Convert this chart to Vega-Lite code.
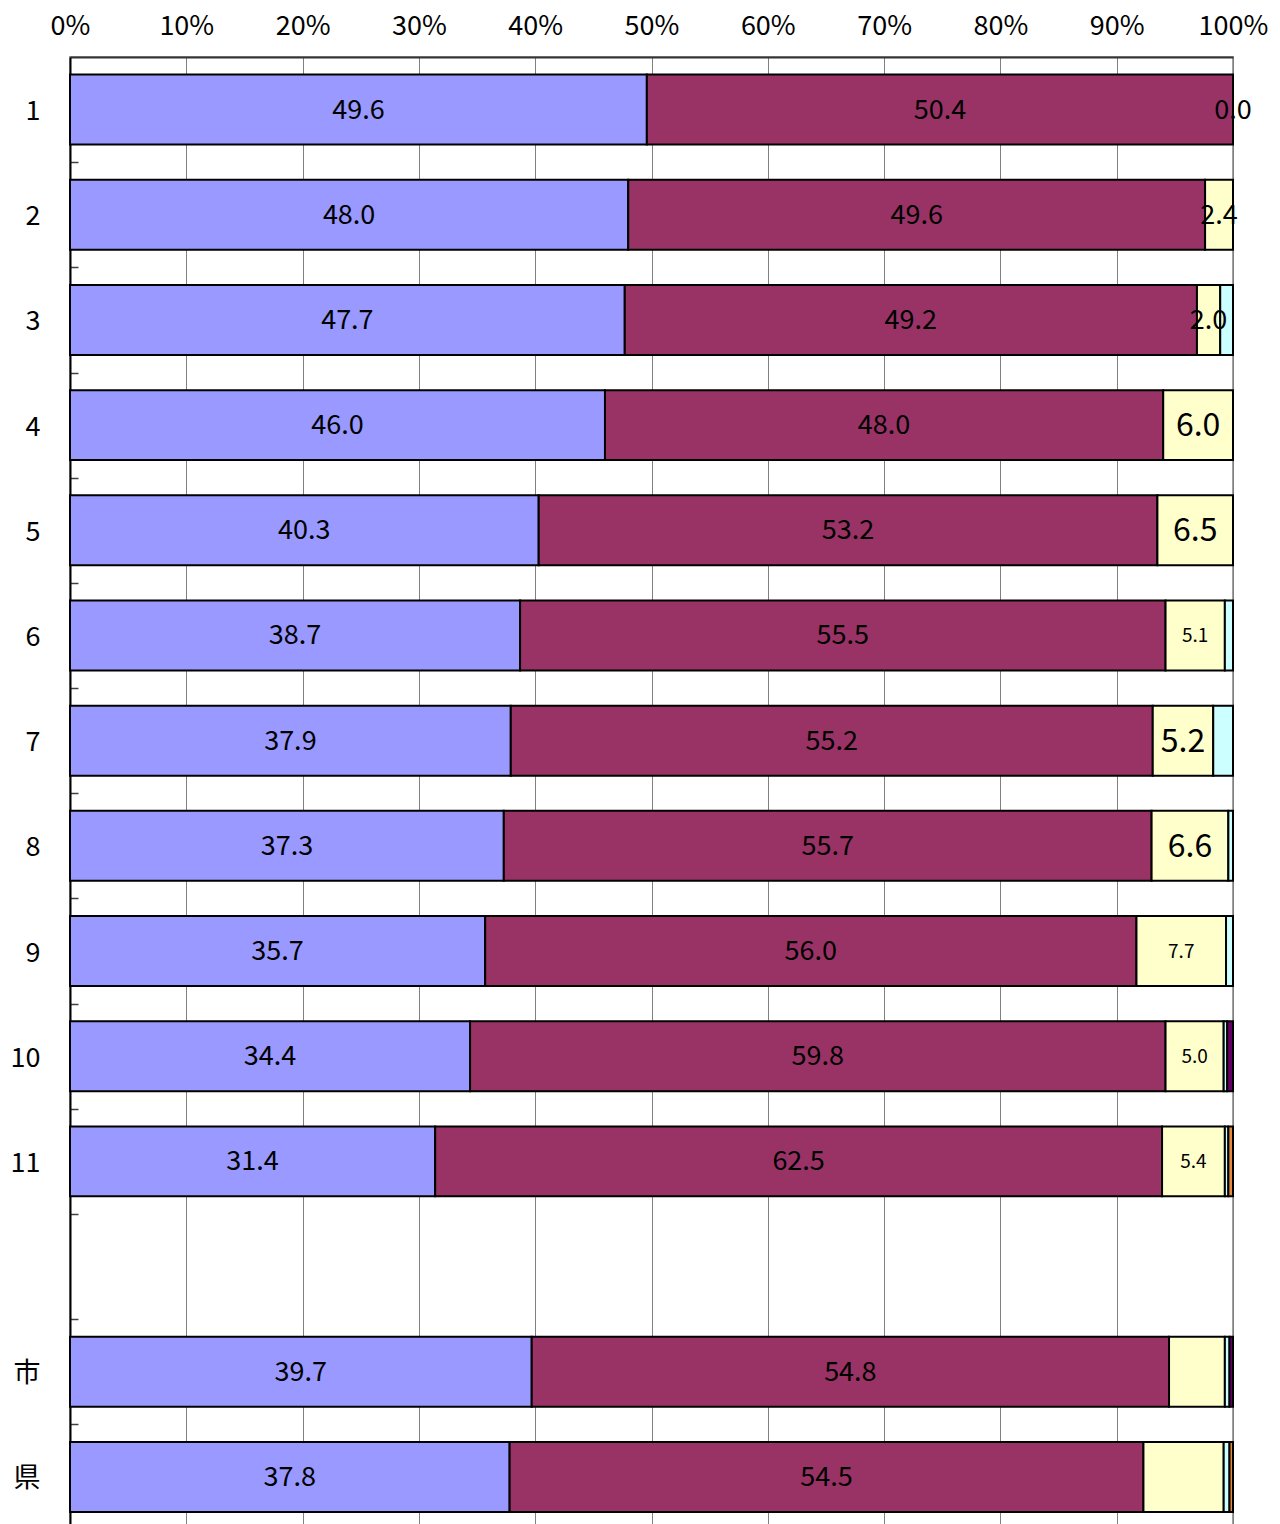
{
  "$schema": "https://vega.github.io/schema/vega-lite/v6.json",
  "autosize": "none",
  "width": 1163,
  "height": 1472.5,
  "padding": {"left": 70, "top": 57, "right": 47, "bottom": 0},
  "background": "white",
  "config": {
    "view": {"stroke": "#A0A0A0", "strokeWidth": 2},
    "font": "Noto Sans CJK JP, sans-serif"
  },
  "data": {
    "values": [
      {"cat": "1", "s": "系列1", "v": 49.6}, {"cat": "1", "s": "系列2", "v": 50.4}, {"cat": "1", "s": "系列3", "v": 0.0},
      {"cat": "2", "s": "系列1", "v": 48.0}, {"cat": "2", "s": "系列2", "v": 49.6}, {"cat": "2", "s": "系列3", "v": 2.4},
      {"cat": "3", "s": "系列1", "v": 47.7}, {"cat": "3", "s": "系列2", "v": 49.2}, {"cat": "3", "s": "系列3", "v": 2.0}, {"cat": "3", "s": "系列4", "v": 1.1},
      {"cat": "4", "s": "系列1", "v": 46.0}, {"cat": "4", "s": "系列2", "v": 48.0}, {"cat": "4", "s": "系列3", "v": 6.0},
      {"cat": "5", "s": "系列1", "v": 40.3}, {"cat": "5", "s": "系列2", "v": 53.2}, {"cat": "5", "s": "系列3", "v": 6.5},
      {"cat": "6", "s": "系列1", "v": 38.7}, {"cat": "6", "s": "系列2", "v": 55.5}, {"cat": "6", "s": "系列3", "v": 5.1}, {"cat": "6", "s": "系列4", "v": 0.7},
      {"cat": "7", "s": "系列1", "v": 37.9}, {"cat": "7", "s": "系列2", "v": 55.2}, {"cat": "7", "s": "系列3", "v": 5.2}, {"cat": "7", "s": "系列4", "v": 1.7},
      {"cat": "8", "s": "系列1", "v": 37.3}, {"cat": "8", "s": "系列2", "v": 55.7}, {"cat": "8", "s": "系列3", "v": 6.6}, {"cat": "8", "s": "系列4", "v": 0.4},
      {"cat": "9", "s": "系列1", "v": 35.7}, {"cat": "9", "s": "系列2", "v": 56.0}, {"cat": "9", "s": "系列3", "v": 7.7}, {"cat": "9", "s": "系列4", "v": 0.6},
      {"cat": "10", "s": "系列1", "v": 34.4}, {"cat": "10", "s": "系列2", "v": 59.8}, {"cat": "10", "s": "系列3", "v": 5.0}, {"cat": "10", "s": "系列4", "v": 0.3}, {"cat": "10", "s": "系列5", "v": 0.5},
      {"cat": "11", "s": "系列1", "v": 31.4}, {"cat": "11", "s": "系列2", "v": 62.5}, {"cat": "11", "s": "系列3", "v": 5.4}, {"cat": "11", "s": "系列4", "v": 0.3}, {"cat": "11", "s": "系列6", "v": 0.4},
      {"cat": "市", "s": "系列1", "v": 39.7}, {"cat": "市", "s": "系列2", "v": 54.8}, {"cat": "市", "s": "系列3", "v": 4.8}, {"cat": "市", "s": "系列4", "v": 0.4}, {"cat": "市", "s": "系列5", "v": 0.3},
      {"cat": "県", "s": "系列1", "v": 37.8}, {"cat": "県", "s": "系列2", "v": 54.5}, {"cat": "県", "s": "系列3", "v": 6.9}, {"cat": "県", "s": "系列4", "v": 0.5}, {"cat": "県", "s": "系列6", "v": 0.3}
    ]
  },
  "transform": [
    {"stack": "v", "groupby": ["cat"], "sort": [{"field": "s", "order": "ascending"}], "as": ["x0", "x1"]},
    {"calculate": "(datum.x0 + datum.x1) / 2", "as": "xm"}
  ],
  "encoding": {
    "y": {
      "field": "cat",
      "type": "nominal",
      "title": null,
      "scale": {
        "domain": ["1", "2", "3", "4", "5", "6", "7", "8", "9", "10", "11", " ", "市", "県"],
        "paddingInner": 0.3345,
        "paddingOuter": 0.16725
      },
      "axis": {
        "orient": "left",
        "domainColor": "#000000",
        "domainWidth": 2,
        "tickSize": -8,
        "tickColor": "#404040",
        "tickWidth": 1.5,
        "tickOffset": 52.59,
        "labelOffset": -50.6,
        "labelPadding": 38,
        "labelFontSize": 27,
        "labelColor": "#000000",
        "labelAlign": "right",
        "labelBaseline": "middle",
        "grid": false
      }
    }
  },
  "layer": [
    {
      "mark": {"type": "bar", "stroke": "#000000", "strokeWidth": 2},
      "encoding": {
        "x": {
          "field": "x0",
          "type": "quantitative",
          "scale": {"domain": [0, 100], "nice": false},
          "title": null,
          "axis": {
            "orient": "top",
            "values": [0, 10, 20, 30, 40, 50, 60, 70, 80, 90, 100],
            "labelExpr": "datum.value + '%'",
            "ticks": false,
            "tickSize": 0,
            "labelPadding": 17,
            "labelFontSize": 27,
            "labelColor": "#000000",
            "labelFlush": false,
            "domainColor": "#333333",
            "domainWidth": 2,
            "grid": true,
            "gridColor": "#808080",
            "gridWidth": 1
          }
        },
        "x2": {"field": "x1"},
        "color": {
          "field": "s",
          "type": "nominal",
          "legend": null,
          "scale": {
            "domain": ["系列1", "系列2", "系列3", "系列4", "系列5", "系列6"],
            "range": ["#9999FF", "#993366", "#FFFFCC", "#CCFFFF", "#660066", "#E8883A"]
          }
        }
      }
    },
    {
      "transform": [
        {"filter": "indexof(['系列1','系列2','系列3'], datum.s) >= 0 && !(datum.s == '系列3' && (datum.cat == '市' || datum.cat == '県'))"}
      ],
      "mark": {"type": "text", "align": "center", "baseline": "middle", "color": "#000000", "dy": 1},
      "encoding": {
        "x": {"field": "xm", "type": "quantitative"},
        "text": {"field": "v", "type": "quantitative", "format": ".1f"},
        "size": {
          "condition": [
            {"test": "datum.s == '系列3' && indexof(['4','5','7','8'], datum.cat) >= 0", "value": 32},
            {"test": "datum.s == '系列3' && indexof(['6','9','10','11'], datum.cat) >= 0", "value": 19}
          ],
          "value": 27
        }
      }
    }
  ]
}
